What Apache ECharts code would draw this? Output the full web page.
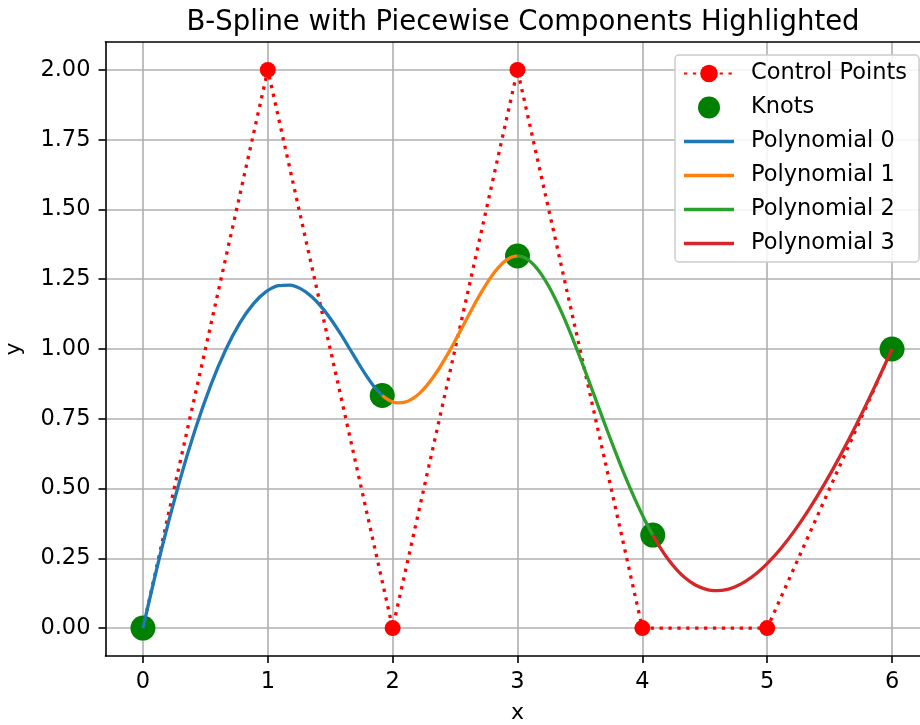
<!DOCTYPE html>
<html>
<head>
<meta charset="utf-8">
<script src="https://cdn.jsdelivr.net/npm/echarts@6/dist/echarts.min.js"></script>
<style>html,body{margin:0;padding:0;background:#fff;}#chart{width:920px;height:725px;}</style>
</head>
<body>
<div id="chart"></div>
<script>
// Control polygon
const ctrlX = [0, 1, 2, 3, 4, 5, 6];
const ctrlY = [0, 2, 0, 2, 0, 0, 1];
// Knot points on the curve
const knotX = [0, 1.9167, 3, 4.0833, 6];
const knotY = [0, 0.8333, 1.3333, 0.3333, 1];
// Piecewise polynomial samples
const poly0X = [0, 0.1463, 0.2854, 0.4177, 0.5433, 0.6628, 0.7763, 0.8841, 0.9867, 1.0842, 1.1771, 1.2656, 1.35, 1.4307, 1.5079, 1.582, 1.6533, 1.7221, 1.7888, 1.8535, 1.9167];
const poly0Y = [0, 0.2780, 0.5138, 0.7104, 0.8707, 0.9974, 1.0935, 1.1619, 1.2053, 1.2268, 1.2292, 1.2153, 1.188, 1.1502, 1.1048, 1.0547, 1.0027, 0.9516, 0.9045, 0.8641, 0.8333];
const poly1X = [1.9167, 1.9786, 2.0393, 2.0988, 2.1573, 2.2148, 2.2714, 2.3271, 2.3820, 2.4361, 2.4896, 2.5424, 2.5947, 2.6464, 2.6978, 2.7487, 2.7993, 2.8497, 2.8999, 2.95, 3.0];
const poly1Y = [0.8333, 0.8144, 0.8068, 0.8095, 0.8213, 0.8411, 0.8678, 0.9003, 0.9373, 0.9779, 1.0208, 1.0650, 1.1093, 1.1526, 1.1938, 1.2318, 1.2653, 1.2934, 1.3148, 1.3285, 1.3333];
const poly2X = [3.0, 3.05, 3.1001, 3.1503, 3.2007, 3.2513, 3.3023, 3.3536, 3.4053, 3.4576, 3.5104, 3.5639, 3.618, 3.6729, 3.7286, 3.7852, 3.8427, 3.9012, 3.9608, 4.0214, 4.0833];
const poly2Y = [1.3333, 1.3285, 1.3143, 1.2917, 1.2613, 1.224, 1.1803, 1.1312, 1.0773, 1.0195, 0.9583, 0.8947, 0.8293, 0.763, 0.6963, 0.6302, 0.5653, 0.5025, 0.4423, 0.3857, 0.3333];
const poly3X = [4.0833, 4.1465, 4.2112, 4.2779, 4.3467, 4.418, 4.4921, 4.5693, 4.65, 4.7344, 4.8229, 4.9158, 5.0133, 5.1159, 5.2237, 5.3372, 5.4567, 5.5823, 5.7146, 5.8537, 6.0];
const poly3Y = [0.3333, 0.2859, 0.2440, 0.2081, 0.1787, 0.1563, 0.1413, 0.1344, 0.136, 0.1466, 0.1667, 0.1968, 0.2373, 0.2889, 0.352, 0.4271, 0.5147, 0.6153, 0.7293, 0.8574, 1.0];
// Tick labels
const xTicks = [0, 1, 2, 3, 4, 5, 6];
const yTicks = [0, 0.25, 0.5, 0.75, 1.0, 1.25, 1.5, 1.75, 2.0];

const zip = (xs, ys) => xs.map((x, i) => [x, ys[i]]);
const FONT = 'DejaVu Sans';

const chart = echarts.init(document.getElementById('chart'), null, {renderer: 'canvas'});
const polyColors = ['#1f77b4', '#ff7f0e', '#2ca02c', '#d62728'];
const polys = [[poly0X, poly0Y], [poly1X, poly1Y], [poly2X, poly2Y], [poly3X, poly3Y]];
const lineIcon = 'path://M0,0H50V3.3H0Z';
const axisBlack = {color: '#000', width: 1.6};

chart.setOption({
  animation: false,
  backgroundColor: '#ffffff',
  title: {
    text: 'B-Spline with Piecewise Components Highlighted',
    left: 518, top: 4, textAlign: 'center',
    textStyle: {fontFamily: FONT, fontSize: 27.5, fontWeight: 'normal', color: '#000'}
  },
  grid: {
    left: 105.5, top: 42, width: 824, height: 614,
    outerBoundsMode: 'none', containLabel: false,
    show: true, borderWidth: 0, backgroundColor: '#fff'
  },
  legend: {
    orient: 'vertical', left: 675, top: 55,
    padding: [7, 12, 7, 8],
    itemWidth: 50, itemHeight: 22, itemGap: 11,
    symbolKeepAspect: true,
    backgroundColor: 'rgba(255,255,255,0.85)', borderColor: '#cccccc', borderWidth: 1.5, borderRadius: 4,
    textStyle: {fontFamily: FONT, fontSize: 22.5, color: '#000', padding: [0, 0, 0, 12]},
    data: [
      {name: 'Control Points'},
      {name: 'Knots'},
      {name: 'Polynomial 0', icon: lineIcon},
      {name: 'Polynomial 1', icon: lineIcon},
      {name: 'Polynomial 2', icon: lineIcon},
      {name: 'Polynomial 3', icon: lineIcon}
    ]
  },
  xAxis: [{
    type: 'value', min: -0.3, max: 6.3, position: 'bottom',
    name: 'x', nameLocation: 'middle', nameGap: 46,
    nameTextStyle: {fontFamily: FONT, fontSize: 22, color: '#000'},
    axisLine: {show: true, onZero: false, lineStyle: axisBlack},
    axisTick: {show: true, length: 7, lineStyle: axisBlack, customValues: xTicks},
    axisLabel: {fontFamily: FONT, fontSize: 22.5, color: '#000', margin: 15, customValues: xTicks,
      formatter: v => String(v)},
    splitLine: {show: true, lineStyle: {color: '#b0b0b0', width: 1.6}, customValues: xTicks}
  }, {
    type: 'value', min: -0.3, max: 6.3, position: 'top',
    axisLine: {show: true, onZero: false, lineStyle: axisBlack},
    axisTick: {show: false}, axisLabel: {show: false}, splitLine: {show: false}
  }],
  yAxis: {
    type: 'value', min: -0.1, max: 2.1,
    name: 'y', nameLocation: 'middle', nameGap: 80, nameRotate: 90,
    nameTextStyle: {fontFamily: FONT, fontSize: 22, color: '#000'},
    axisLine: {show: true, onZero: false, lineStyle: axisBlack},
    axisTick: {show: true, length: 7, lineStyle: axisBlack, customValues: yTicks},
    axisLabel: {fontFamily: FONT, fontSize: 22.5, color: '#000', margin: 15, customValues: yTicks,
      formatter: v => v.toFixed(2)},
    splitLine: {show: true, lineStyle: {color: '#b0b0b0', width: 1.6}, customValues: yTicks}
  },
  series: [
    {
      name: 'Control Points', type: 'line', data: zip(ctrlX, ctrlY),
      symbol: 'circle', symbolSize: 16, showSymbol: true, z: 2,
      itemStyle: {color: '#ff0000'},
      lineStyle: {color: '#ff0000', width: 3.3, type: [3.3, 5.6], cap: 'butt'}
    },
    {
      name: 'Knots', type: 'scatter', data: zip(knotX, knotY),
      symbol: 'circle', symbolSize: 25, z: 3,
      itemStyle: {color: '#008000', opacity: 1}
    },
    ...polys.map((p, i) => ({
      name: 'Polynomial ' + i, type: 'line', data: zip(p[0], p[1]),
      symbol: 'none', showSymbol: false, smooth: 0.3, z: 4,
      itemStyle: {color: polyColors[i], borderWidth: 0},
      lineStyle: {color: polyColors[i], width: 3.3}
    }))
  ]
});
</script>
</body>
</html>
